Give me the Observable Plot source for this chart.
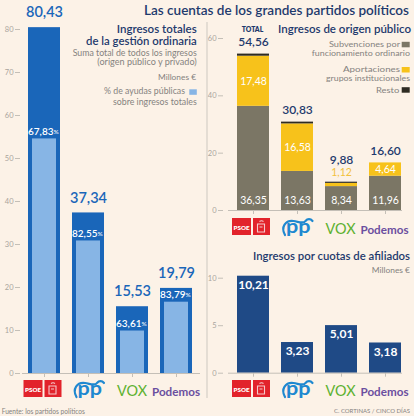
<!DOCTYPE html>
<html><head><meta charset="utf-8">
<script src="https://cdn.jsdelivr.net/npm/d3@7"></script>
<script src="https://cdn.jsdelivr.net/npm/@observablehq/plot@0.6"></script>
<style>
html,body{margin:0;padding:0;background:#fcf2e7;}
#root{position:relative;width:414px;height:416px;overflow:hidden;background:#fcf2e7;font-family:Lato,"Noto Sans",sans-serif;}
#root svg{position:absolute;left:0;top:0;}
</style></head><body><div id="root"></div>
<script>
const parties = ["PSOE","PP","VOX","Podemos"];
const ingresosTotales = [80.43,37.34,15.53,19.79];
const pctAyudas = [67.83,82.55,63.61,83.79];
const origenTotal = [54.56,30.83,9.88,16.60];
const subvenciones = [36.35,13.63,8.34,11.96];
const aportaciones = [17.48,16.58,1.12,4.64];
const resto = [0.73,0.62,0.42,0];
const cuotas = [10.21,3.23,5.01,3.18];
const ticksTotales = [0,10,20,30,40,50,60,70,80];
const ticksOrigen = [0,20,40,60];
const ticksCuotas = [0,5,10];
const categorias = ["Subvenciones por funcionamiento ordinario","Aportaciones grupos institucionales","Resto"];
const colores = ["#7b7665","#f7c21b","#2e2b22"];

const NAVY = "#1f3a6d", GRAY = "#858280", AX = "#c4bfb7", AXT = "#aaa59d";
const FONT = "Lato, 'Noto Sans', sans-serif";
const fmt = v => d3.format(".2f")(v).replace(".", ",");
const root = document.getElementById("root");

const xBand = range => ({domain: parties, range, paddingInner: 0.28, paddingOuter: 0.14, axis: null});
const baseStyle = {background: "transparent", fontFamily: FONT, overflow: "visible"};
const yAxis = (ticks, dx) => Plot.axisY({ticks, tickSize: 5, tickPadding: 2, dx, fontSize: 7.5, stroke: AX, fill: AXT, label: null, tickFormat: d => d});
const xAxis = () => Plot.axisX({tickSize: 4, tickFormat: () => "", stroke: AX, label: null});

// ---------- Left: ingresos totales ----------
const left = parties.map((p, i) => ({party: p, total: ingresosTotales[i], pct: pctAyudas[i], ayudas: ingresosTotales[i] * pctAyudas[i] / 100}));
const p1 = Plot.plot({
  width: 414, height: 416, marginLeft: 22, marginRight: 214, marginTop: 29, marginBottom: 43,
  style: baseStyle,
  x: xBand([22, 198]),
  y: {domain: [0, 80], axis: null},
  marks: [
    yAxis(ticksTotales, -2),
    xAxis(),
    Plot.barY(left, {x: "party", y: "total", fill: "#1a66b9"}),
    Plot.barY(left, {x: "party", y: "ayudas", fill: "#87b5e5", insetLeft: 4, insetRight: 4}),
    Plot.ruleY([0], {stroke: AX}),
    Plot.text(left, {x: "party", y: "total", text: d => fmt(d.total), dy: -15, fontSize: 14.5, fontWeight: 600, fill: "#1a66b9"}),
    Plot.text(left, {x: "party", y: "ayudas", text: d => fmt(d.pct), textAnchor: "end", dx: 9, dy: -7, fontSize: 10, fontWeight: 600, fill: "white"}),
    Plot.text(left, {x: "party", y: "ayudas", text: () => "%", textAnchor: "start", dx: 9, dy: -7, fontSize: 6.5, fill: "white"})
  ]
});
root.appendChild(p1);

// ---------- Right top: origen público ----------
const stackData = [];
parties.forEach((p, i) => {
  [subvenciones[i], aportaciones[i], resto[i]].forEach((v, j) => stackData.push({party: p, cat: categorias[j], value: v}));
});
const pub = parties.map((p, i) => ({party: p, total: origenTotal[i], sub: subvenciones[i], apo: aportaciones[i]}));
const notVox = pub.filter(d => d.party !== "VOX");
const vox = pub.filter(d => d.party === "VOX");
const p2 = Plot.plot({
  width: 414, height: 416, marginLeft: 228, marginRight: 12, marginTop: 38, marginBottom: 206,
  style: baseStyle,
  x: xBand([230.5, 406.5]),
  y: {domain: [0, 60], axis: null},
  color: {domain: categorias, range: colores},
  marks: [
    yAxis(ticksOrigen, -5),
    xAxis(),
    Plot.barY(stackData, {x: "party", y: "value", fill: "cat"}),
    Plot.ruleY([0], {stroke: AX}),
    Plot.text(pub, {x: "party", y: 0, text: d => fmt(d.sub), dy: -10, fontSize: 10.5, fill: "white"}),
    Plot.text(notVox, {x: "party", y: d => d.sub + d.apo / 2, text: d => fmt(d.apo), fontSize: 10.5, fill: "white"}),
    Plot.text(vox, {x: "party", y: "total", text: d => fmt(d.apo), dy: -10, fontSize: 10.5, fill: "#f2c13c"}),
    Plot.text(notVox, {x: "party", y: "total", text: d => fmt(d.total), dy: -12, fontSize: 12, fontWeight: 600, fill: NAVY}),
    Plot.text(vox, {x: "party", y: "total", text: d => fmt(d.total), dy: -22, fontSize: 12, fontWeight: 600, fill: NAVY})
  ]
});
root.appendChild(p2);

// ---------- Right bottom: cuotas ----------
const cuo = parties.map((p, i) => ({party: p, value: cuotas[i]}));
const p3 = Plot.plot({
  width: 414, height: 416, marginLeft: 228, marginRight: 12, marginTop: 277.7, marginBottom: 43.3,
  style: baseStyle,
  x: xBand([230.5, 406.5]),
  y: {domain: [0, 10], axis: null},
  marks: [
    yAxis(ticksCuotas, -5),
    xAxis(),
    Plot.barY(cuo, {x: "party", y: "value", fill: "#1f4a86"}),
    Plot.ruleY([0], {stroke: AX}),
    Plot.text(cuo, {x: "party", y: "value", text: d => fmt(d.value), dy: 9, fontSize: 12, fontWeight: 700, fill: "white"})
  ]
});
root.appendChild(p3);

// ---------- Overlay: titles, legends, logos ----------
const svg = d3.create("svg").attr("width", 414).attr("height", 416).style("pointer-events", "none");
root.appendChild(svg.node());
const g = svg.append("g");
// text fitted to the width it has in the reference: shrink the font until its natural width fits
function txt(x0, x1, y, s, size, weight, fill) {
  const t = g.append("text").attr("x", x0).attr("y", y)
    .attr("font-size", size).attr("font-weight", weight).attr("fill", fill)
    .attr("font-family", FONT).text(s);
  const target = x1 - x0;
  const w = t.node().getComputedTextLength();
  if (w > target && w > 0) t.attr("font-size", size * target / w);
  t.attr("textLength", target).attr("lengthAdjust", "spacingAndGlyphs");
  return t;
}
function box(x, y, w, h, fill) {
  g.append("rect").attr("x", x).attr("y", y).attr("width", w).attr("height", h).attr("fill", fill);
}

g.append("line").attr("x1", 207).attr("x2", 207).attr("y1", 22).attr("y2", 398).attr("stroke", "#cdc8c0");

txt(144, 409, 14.5, "Las cuentas de los grandes partidos políticos", 13.5, 600, NAVY);

txt(116.7, 196.7, 32.5, "Ingresos totales", 12.5, 600, NAVY);
txt(86, 196.7, 44.5, "de la gestión ordinaria", 12.5, 600, NAVY);
txt(72.7, 196.7, 56, "Suma total de todos los ingresos", 8.5, 400, GRAY);
txt(97.3, 196.7, 64.8, "(origen público y privado)", 8.5, 400, GRAY);
txt(158, 196, 80, "Millones €", 8.5, 400, GRAY);
txt(104, 185, 94, "% de ayudas públicas", 8.5, 400, GRAY);
box(189.3, 89.3, 7.5, 5.5, "#87b5e5");
txt(113, 196.7, 104.5, "sobre ingresos totales", 8.5, 400, GRAY);

txt(278, 411, 33, "Ingresos de origen público", 12.5, 600, NAVY);
txt(241.7, 263.3, 31.5, "TOTAL", 7, 800, NAVY);
txt(329, 400, 47, "Subvenciones por", 8.2, 400, GRAY);
box(401.7, 41.8, 8, 5.5, colores[0]);
txt(311.7, 410, 55.9, "funcionamiento ordinario", 8.2, 400, GRAY);
txt(343, 400, 72, "Aportaciones", 8.2, 400, GRAY);
box(401.7, 67, 8, 5.5, colores[1]);
txt(326, 410, 81.2, "grupos institucionales", 8.2, 400, GRAY);
txt(376, 399.3, 92.7, "Resto", 8.2, 400, GRAY);
box(401.7, 87.2, 8, 5.5, colores[2]);

txt(253, 410, 259.5, "Ingresos por cuotas de afiliados", 12.5, 600, NAVY);
txt(371.7, 410, 272.5, "Millones €", 8.5, 400, GRAY);

txt(334, 410, 413, "C. CORTINAS / CINCO DÍAS", 7, 400, GRAY);
txt(1.7, 85, 413.5, "Fuente: los partidos políticos", 7.5, 400, GRAY);

function logos(centers, top) {
  let c = centers[0];
  box(c - 20.5, top, 19, 17, "#e2232b");
  txt(c - 19, c - 3, top + 11.5, "PSOE", 7.5, 800, "#fff");
  box(c + 0.5, top, 17, 17, "#e2232b");
  g.append("path")
    .attr("d", `M${c + 5},${top + 6} h7 v8 h-7 z M${c + 7},${top + 3.5} q2,-1.5 4,0 M${c + 7},${top + 9} h3`)
    .attr("fill", "none").attr("stroke", "#f6c9cc").attr("stroke-width", 1.1);
  c = centers[1];
  txt(c - 10.5, c + 14, top + 14.5, "pp", 19, 700, "#1e88d0");
  g.append("path")
    .attr("d", `M${c - 11.5},${top + 17} C${c - 16},${top + 9} ${c - 11},${top + 2} ${c - 3},${top + 3} C${c + 3},${top + 4} ${c + 7},${top + 6} ${c + 9},${top + 3} C${c + 11},${top + 0.5} ${c + 14},${top + 0.5} ${c + 16},${top + 3}`)
    .attr("fill", "none").attr("stroke", "#1e88d0").attr("stroke-width", 2.2).attr("stroke-linecap", "round");
  c = centers[2];
  txt(c - 15, c + 15, top + 16, "VOX", 18, 400, "#5db130");
  c = centers[3];
  txt(c - 24, c + 24, top + 15.5, "Podemos", 13, 700, "#6b4f9f");
}
logos([44, 88, 132, 176], 380);
logos([252.5, 296.5, 340.5, 384.5], 218);
logos([252.5, 296.5, 340.5, 384.5], 380);
</script></body></html>
